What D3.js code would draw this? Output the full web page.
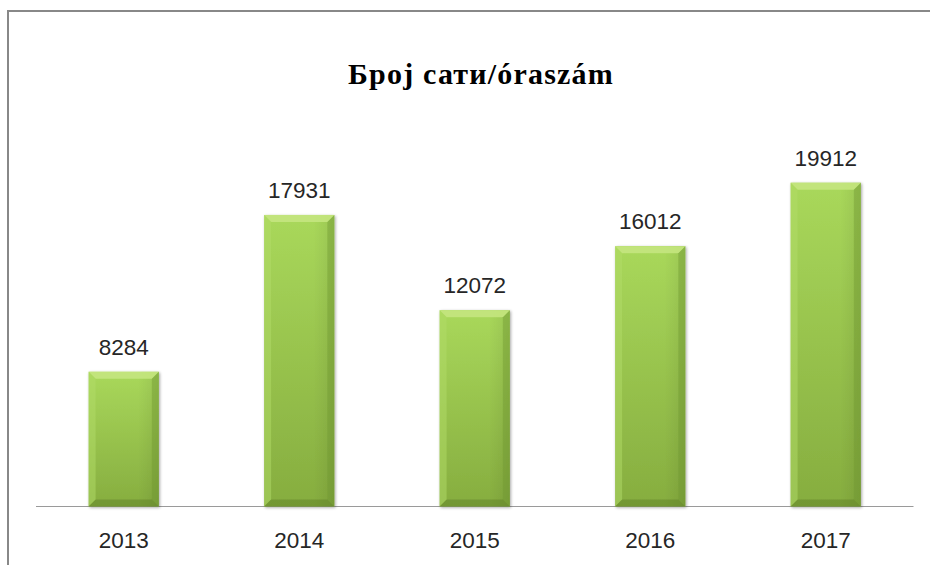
<!DOCTYPE html>
<html>
<head>
<meta charset="utf-8">
<script src="https://cdn.jsdelivr.net/npm/d3@7"></script>
<style>
  html, body { margin: 0; padding: 0; background: #fff; }
  svg { display: block; }
</style>
</head>
<body>
<svg id="chart" width="930" height="565"></svg>
<script>
const years = ["2013", "2014", "2015", "2016", "2017"];
const hours = [8284, 17931, 12072, 16012, 19912];
const titleText = "Број сати/óraszám";

const W = 930, H = 565;
const svg = d3.select("#chart");

// frame (partially visible chart area border)
svg.append("path")
  .attr("d", `M8,${H + 5} L8,11 L${W + 5},11`)
  .attr("fill", "none")
  .attr("stroke", "#888888")
  .attr("stroke-width", 2);

const x = d3.scaleBand().domain(years).range([36, 913.5]).paddingInner(0.6).paddingOuter(0.3);
const y = d3.scaleLinear().domain([0, 25000]).range([506.5, 100]);

const defs = svg.append("defs");
const grad = defs.append("linearGradient").attr("id", "barGrad")
  .attr("x1", 0).attr("y1", 0).attr("x2", 0).attr("y2", 1);
grad.append("stop").attr("offset", "0%").attr("stop-color", "#a9d85b");
grad.append("stop").attr("offset", "100%").attr("stop-color", "#86ad3f");

const hgrad = defs.append("linearGradient").attr("id", "barH")
  .attr("x1", 0).attr("y1", 0).attr("x2", 1).attr("y2", 0);
hgrad.append("stop").attr("offset", "0%").attr("stop-color", "#000").attr("stop-opacity", 0.0);
hgrad.append("stop").attr("offset", "70%").attr("stop-color", "#000").attr("stop-opacity", 0.0);
hgrad.append("stop").attr("offset", "100%").attr("stop-color", "#000").attr("stop-opacity", 0.08);

const shadow = defs.append("filter").attr("id", "shadow").attr("x", "-20%").attr("y", "-5%").attr("width", "140%").attr("height", "115%");
shadow.append("feGaussianBlur").attr("in", "SourceAlpha").attr("stdDeviation", 1.5);
shadow.append("feOffset").attr("dx", 1).attr("dy", 1).attr("result", "ob");
shadow.append("feComponentTransfer").append("feFuncA").attr("type", "linear").attr("slope", 0.35);
const merge = shadow.append("feMerge");
merge.append("feMergeNode");
merge.append("feMergeNode").attr("in", "SourceGraphic");

// axis line
svg.append("line")
  .attr("x1", 36).attr("x2", 913.5)
  .attr("y1", 506.5).attr("y2", 506.5)
  .attr("stroke", "#9a9a9a").attr("stroke-width", 1);

const data = years.map((d, i) => ({ year: d, value: hours[i] }));
const bw = x.bandwidth();
const b = 7;

const bars = svg.append("g").selectAll("g").data(data).join("g")
  .attr("filter", "url(#shadow)");

bars.append("rect")
  .attr("x", d => x(d.year))
  .attr("y", d => y(d.value))
  .attr("width", bw)
  .attr("height", d => y(0) - y(d.value))
  .attr("fill", "url(#barGrad)");
bars.append("rect")
  .attr("x", d => x(d.year))
  .attr("y", d => y(d.value))
  .attr("width", bw)
  .attr("height", d => y(0) - y(d.value))
  .attr("fill", "url(#barH)");

// bevels
function bevel(d, side) {
  const x0 = x(d.year), x1 = x0 + bw, y0 = y(d.value), y1 = y(0);
  if (side === "top") return `M${x0},${y0} L${x1},${y0} L${x1 - b},${y0 + b} L${x0 + b},${y0 + b} Z`;
  if (side === "left") return `M${x0},${y0} L${x0 + b},${y0 + b} L${x0 + b},${y1 - b} L${x0},${y1} Z`;
  if (side === "right") return `M${x1},${y0} L${x1},${y1} L${x1 - b},${y1 - b} L${x1 - b},${y0 + b} Z`;
  return `M${x0},${y1} L${x0 + b},${y1 - b} L${x1 - b},${y1 - b} L${x1},${y1} Z`;
}
bars.append("path").attr("d", d => bevel(d, "top")).attr("fill", "#c4e67e").attr("opacity", 0.9);
bars.append("path").attr("d", d => bevel(d, "left")).attr("fill", "#b2dc68").attr("opacity", 0.5);
bars.append("path").attr("d", d => bevel(d, "right")).attr("fill", "#6f9630").attr("opacity", 0.4);
bars.append("path").attr("d", d => bevel(d, "bottom")).attr("fill", "#5f8228").attr("opacity", 0.5);

// value labels
svg.append("g").selectAll("text").data(data).join("text")
  .attr("x", d => x(d.year) + bw / 2)
  .attr("y", d => y(d.value) - 17)
  .attr("text-anchor", "middle")
  .attr("font-family", "'Liberation Sans', Arial, sans-serif")
  .attr("font-size", 22.5)
  .attr("fill", "#262626")
  .text(d => d.value);

// category labels
svg.append("g").selectAll("text").data(years).join("text")
  .attr("x", d => x(d) + bw / 2)
  .attr("y", 548)
  .attr("text-anchor", "middle")
  .attr("font-family", "'Liberation Sans', Arial, sans-serif")
  .attr("font-size", 22.5)
  .attr("fill", "#262626")
  .text(d => d);

// title
svg.append("text")
  .attr("x", 481)
  .attr("y", 84)
  .attr("text-anchor", "middle")
  .attr("font-family", "'Liberation Serif', 'DejaVu Serif', serif")
  .attr("font-weight", "bold")
  .attr("font-size", 30)
  .attr("letter-spacing", 1.2)
  .attr("fill", "#000")
  .text(titleText);
</script>
</body>
</html>
